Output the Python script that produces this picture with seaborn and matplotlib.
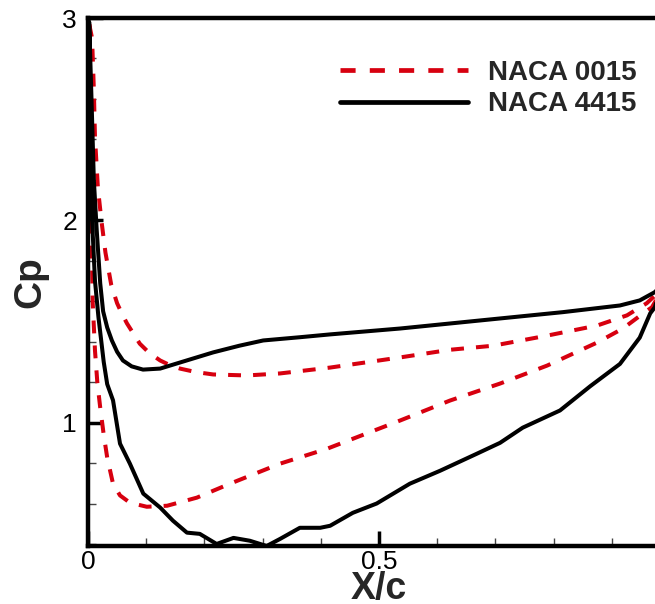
import numpy as np
import pandas as pd
import matplotlib
matplotlib.use("Agg")
import matplotlib.pyplot as plt
from matplotlib.ticker import MultipleLocator
import seaborn as sns

# NACA 0015, outer branch (leading edge -> trailing edge)
x0015_outer = [0.002, 0.007, 0.010, 0.012, 0.017, 0.023, 0.030, 0.040, 0.050, 0.058, 0.067,
               0.078, 0.089, 0.105, 0.124, 0.140, 0.158, 0.185, 0.215, 0.273, 0.330,
               0.416, 0.536, 0.622, 0.696, 0.789, 0.875, 0.926, 0.960, 0.975, 0.985]
cp0015_outer = [2.97, 2.90, 2.65, 2.41, 2.16, 2.00, 1.84, 1.68, 1.59, 1.54, 1.49,
                1.44, 1.39, 1.345, 1.307, 1.285, 1.267, 1.25, 1.238, 1.233, 1.243,
                1.272, 1.322, 1.36, 1.38, 1.43, 1.48, 1.53, 1.59, 1.63, 1.65]
# NACA 0015, inner branch (leading edge -> trailing edge)
x0015_inner = [0.002, 0.004, 0.006, 0.008, 0.012, 0.016, 0.021, 0.027, 0.033, 0.043, 0.055,
               0.072, 0.101, 0.136, 0.187, 0.244, 0.330, 0.411, 0.536, 0.622, 0.708,
               0.789, 0.875, 0.919, 0.954, 0.969, 0.985]
cp0015_inner = [2.97, 2.40, 1.97, 1.60, 1.356, 1.20, 1.074, 0.94, 0.827, 0.698, 0.64,
                0.604, 0.584, 0.589, 0.629, 0.698, 0.797, 0.871, 1.01, 1.109, 1.193,
                1.282, 1.396, 1.465, 1.54, 1.57, 1.65]

# NACA 4415, outer branch
x4415_outer = [0.002, 0.006, 0.010, 0.015, 0.021, 0.026, 0.033, 0.041, 0.050, 0.060, 0.075,
               0.0945, 0.124, 0.158, 0.215, 0.260, 0.301, 0.364, 0.416, 0.536, 0.674,
               0.816, 0.914, 0.948, 0.974, 0.985]
cp4415_outer = [2.98, 2.60, 2.20, 1.95, 1.688, 1.55, 1.47, 1.406, 1.35, 1.307, 1.278,
                1.262, 1.267, 1.297, 1.347, 1.38, 1.406, 1.422, 1.436, 1.465, 1.505,
                1.546, 1.579, 1.604, 1.645, 1.68]
# NACA 4415, inner branch
x4415_inner = [0.002, 0.004, 0.007, 0.012, 0.018, 0.027, 0.033, 0.043, 0.055, 0.072, 0.095,
               0.124, 0.146, 0.170, 0.192, 0.221, 0.250, 0.278, 0.307, 0.330, 0.364,
               0.399, 0.416, 0.455, 0.496, 0.553, 0.605, 0.668, 0.708, 0.747, 0.811,
               0.863, 0.914, 0.948, 0.966, 0.974, 0.985]
cp4415_inner = [2.98, 2.50, 2.00, 1.70, 1.52, 1.30, 1.19, 1.11, 0.896, 0.797, 0.649,
                0.58, 0.515, 0.456, 0.45, 0.40, 0.43, 0.416, 0.39, 0.425, 0.48,
                0.48, 0.49, 0.554, 0.60, 0.698, 0.762, 0.846, 0.90, 0.975, 1.06,
                1.18, 1.29, 1.42, 1.54, 1.57, 1.68]

airfoils = ["NACA 0015", "NACA 4415"]


def loop(name, xo, co, xi, ci):
    # closed curve: outer branch forward, inner branch back to the leading edge
    xs = list(xo) + list(xi[::-1])
    cs = list(co) + list(ci[::-1])
    return pd.DataFrame({"x": xs, "cp": cs, "airfoil": name})


df = pd.concat([
    loop(airfoils[0], x0015_outer, cp0015_outer, x0015_inner, cp0015_inner),
    loop(airfoils[1], x4415_outer, cp4415_outer, x4415_inner, cp4415_inner),
], ignore_index=True)

sns.set_style("ticks")
plt.rcParams["font.family"] = ["Liberation Sans", "DejaVu Sans"]

fig = plt.figure(figsize=(6.55, 6.04), dpi=100)
ax = fig.add_axes([88 / 655, 58 / 604, 582 / 655, 528 / 604])

sns.lineplot(data=df, x="x", y="cp", hue="airfoil", style="airfoil",
             hue_order=airfoils, style_order=airfoils,
             palette={"NACA 0015": "#d7000f", "NACA 4415": "black"},
             dashes={"NACA 0015": (3.2, 3.0), "NACA 4415": ""},
             sort=False, estimator=None, linewidth=2.9, ax=ax)

ax.set_xlim(0, 1.0)
ax.set_ylim(0.39, 3.0)
ax.xaxis.set_minor_locator(MultipleLocator(0.1))
ax.yaxis.set_major_locator(MultipleLocator(1))
ax.yaxis.set_minor_locator(MultipleLocator(0.2))
ax.set_xticks([0, 0.5])
ax.set_xticklabels(["0", "0.5"])
ax.tick_params(which="major", direction="in", length=11, width=2.5, labelsize=19,
               pad=3, colors="black")
ax.tick_params(which="minor", direction="in", length=6, width=1.0, color="#444444")
ax.tick_params(axis="y", which="major", pad=8)

for s in ax.spines.values():
    s.set_linewidth(3.2)
    s.set_color("black")

ax.set_xlabel("X/c", fontsize=27, fontweight="bold", labelpad=-2)
ax.set_ylabel("Cp", fontsize=28, fontweight="bold", labelpad=10)

handles, labels = ax.get_legend_handles_labels()
for h in handles:
    h.set_linewidth(3.4)
leg = ax.legend(handles, labels, loc="upper left", bbox_to_anchor=(340 / 655, 1 - 60 / 604),
                bbox_transform=fig.transFigure, frameon=False, borderpad=0,
                borderaxespad=0, handlelength=4.6, handletextpad=0.72, labelspacing=0.19,
                prop={"size": 20, "weight": "bold"})

fig.savefig("out.png", dpi=100)
